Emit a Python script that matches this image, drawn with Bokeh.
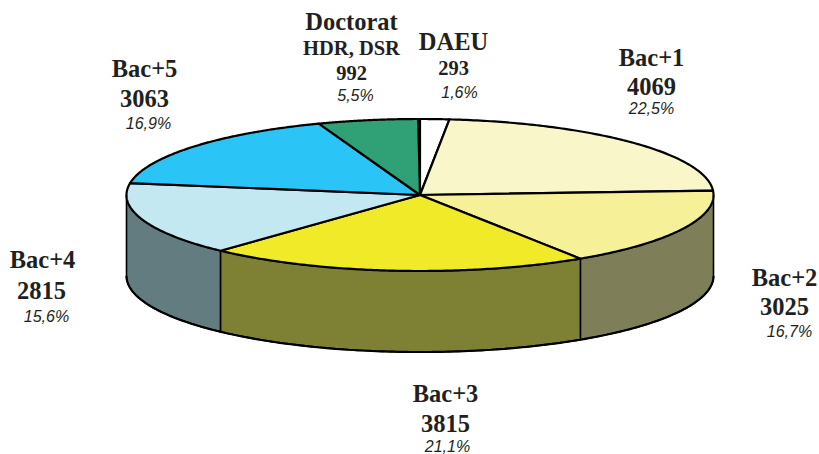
import numpy as np
from bokeh.plotting import figure
from bokeh.models import Range1d
from bokeh.core.properties import value
from bokeh.embed import file_html
from bokeh.resources import INLINE

names = ["DAEU", "Bac+1", "Bac+2", "Bac+3", "Bac+4", "Bac+5", "Doctorat"]
counts = [293, 4069, 3025, 3815, 2815, 3063, 992]
shares = [1.6, 22.5, 16.7, 21.1, 15.6, 16.9, 5.5]
top_colors = ["#FFFFFF", "#F9F7C9", "#F6F199", "#F0EA28", "#C4E8F1", "#2AC4F6", "#30A077"]
side_colors = ["#FFFFFF", "#7E7F59", "#7E7F59", "#7E8033", "#637C80", "#637C80", "#30A077"]
subtitle = "HDR, DSR"

CX, CY, RX, RY, DEPTH = 420.5, 195.0, 293.5, 76.0, 81.0

# label anchors: name (x, baseline), count (x, baseline), percent (x, baseline)
anchors = {
    "DAEU": ((454, 50), (454, 75), (460, 98)),
    "Bac+1": ((652, 66), (652, 95), (652, 114)),
    "Bac+2": ((785, 286), (785, 315), (790, 337)),
    "Bac+3": ((446, 402), (446, 432), (448, 452)),
    "Bac+4": ((43, 268), (42, 299), (47, 322)),
    "Bac+5": ((145, 77), (145, 107), (149, 129)),
    "Doctorat": ((352, 30), (352, 80), (356, 101)),
}
sub_anchor = (352, 55)

p = figure(width=819, height=454, output_backend="svg", toolbar_location=None,
           x_range=Range1d(1, 820), y_range=Range1d(454.5, 0.5),
           min_border=0, outline_line_color=None)
p.axis.visible = False
p.grid.visible = False
p.background_fill_color = "#FFFFFF"


def ellipse(t):
    return CX + RX * np.sin(t), CY - RY * np.cos(t)


edges = np.radians(np.concatenate([[0], np.cumsum(shares)]) * 3.6)

# side wall (only the front half of the disc is visible)
for i in range(len(names)):
    a, b = max(edges[i], np.pi / 2), min(edges[i + 1], 3 * np.pi / 2)
    if b <= a:
        continue
    t = np.linspace(a, b, 80)
    x, y = ellipse(t)
    p.patch(np.r_[x, x[::-1]], np.r_[y, (y + DEPTH)[::-1]], fill_color=side_colors[i],
            line_color="#000000", line_width=1.6, line_join="round")

# top of the disc
for i in range(len(names)):
    t = np.linspace(edges[i], edges[i + 1], 120)
    x, y = ellipse(t)
    p.patch(np.r_[CX, x], np.r_[CY, y], fill_color=top_colors[i],
            line_color="#000000", line_width=2.2, line_join="round")

# bottom rim is a little heavier than the verticals
t = np.linspace(np.pi / 2, 3 * np.pi / 2, 200)
x, y = ellipse(t)
p.line(x, y + DEPTH, line_color="#000000", line_width=2.2)

DARK = "#231F20"


def label(x, y, txt, size, font, style):
    px = float(size.replace("px", ""))
    # the renderer sets alphabetic text about 0.36 em low
    p.text(x=[x], y=[y - 0.36 * px], text=[txt], text_font=value(font), text_font_size=value(size),
           text_font_style=style, text_color=DARK, text_align="center",
           text_baseline="alphabetic")


for i, n in enumerate(names):
    na, ca, pa = anchors[n]
    label(na[0], na[1], n, "24.5px", "Liberation Serif", "bold")
    small = n in ("DAEU", "Doctorat")
    label(ca[0], ca[1], str(counts[i]), "20.5px" if small else "24.5px", "Liberation Serif", "bold")
    label(pa[0], pa[1], f"{shares[i]:.1f}%".replace(".", ","), "16px", "Liberation Sans", "italic")
label(sub_anchor[0], sub_anchor[1], subtitle, "20.5px", "Liberation Serif", "bold")

open("out.html", "w").write(file_html(p, INLINE))
